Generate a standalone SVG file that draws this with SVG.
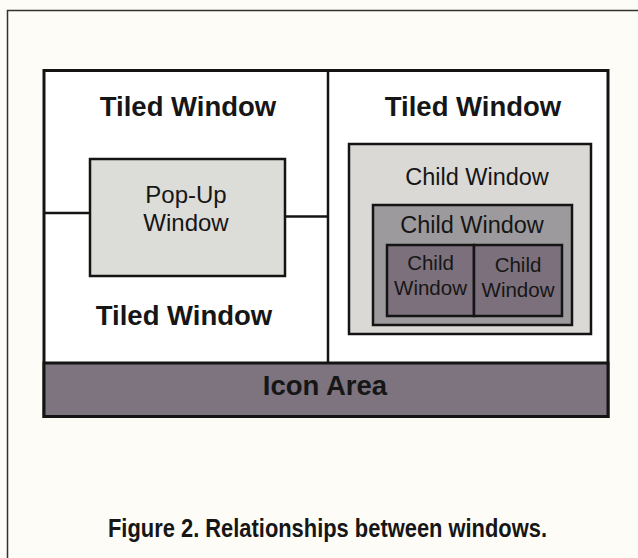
<svg xmlns="http://www.w3.org/2000/svg" width="638" height="558" viewBox="0 0 638 558">
<style>
.lbl{font-family:"Liberation Sans",Arial,sans-serif;fill:#161616;text-anchor:middle}
.bold{font-weight:bold}
.box{stroke:#141414;stroke-width:2.5}
</style>
<rect x="0" y="0" width="638" height="558" fill="#fdfcf6"/>
<path d="M7.5 558 V10.5 H638" fill="none" stroke="#333" stroke-width="1.5"/>
<g id="main-frame">
<rect x="44" y="70.5" width="564" height="346" fill="#ffffff" stroke="#141414" stroke-width="3"/>
<line x1="328" y1="70.5" x2="328" y2="363" stroke="#141414" stroke-width="2.5"/>
</g>
<g id="tiled-top-left">
<text class="lbl bold" x="188" y="116" font-size="27.5">Tiled Window</text>
</g>
<g id="tiled-bottom-left">
<text class="lbl bold" x="184" y="325" font-size="27.5">Tiled Window</text>
</g>
<g id="tiled-right">
<text class="lbl bold" x="473" y="116" font-size="27.5">Tiled Window</text>
</g>
<g id="connectors">
<line x1="44" y1="213" x2="90" y2="213" stroke="#141414" stroke-width="2.5"/>
<line x1="285" y1="216.5" x2="328" y2="216.5" stroke="#141414" stroke-width="2.5"/>
</g>
<g id="popup-window">
<rect class="box" x="90" y="159" width="195" height="117" fill="#dcdcd8"/>
<text class="lbl" x="186" y="203" font-size="24">Pop-Up</text>
<text class="lbl" x="186" y="231" font-size="24">Window</text>
</g>
<g id="child-window-1">
<rect class="box" x="349" y="144" width="242" height="190" fill="#dad9d6"/>
<text class="lbl" x="477" y="185" font-size="23.5">Child Window</text>
</g>
<g id="child-window-2">
<rect class="box" x="373" y="205" width="199" height="120" fill="#9c9a9c"/>
<text class="lbl" x="472" y="233" font-size="23.5">Child Window</text>
</g>
<g id="child-window-3">
<rect class="box" x="387" y="245" width="87" height="71" fill="#7b707b"/>
<text class="lbl" x="430.5" y="270" font-size="20.5">Child</text>
<text class="lbl" x="430.5" y="295" font-size="20.5">Window</text>
</g>
<g id="child-window-4">
<rect class="box" x="474" y="245" width="88" height="71" fill="#7b707b"/>
<text class="lbl" x="518" y="272" font-size="20.5">Child</text>
<text class="lbl" x="518" y="297" font-size="20.5">Window</text>
</g>
<g id="icon-area">
<rect x="44" y="363" width="564" height="53.5" fill="#7d7480" stroke="#141414" stroke-width="3"/>
<text class="lbl bold" x="325" y="395" font-size="27.5">Icon Area</text>
</g>
<g id="caption">
<text class="lbl bold" x="327.5" y="537" font-size="25" textLength="439" lengthAdjust="spacingAndGlyphs">Figure 2. Relationships between windows.</text>
</g>
</svg>
